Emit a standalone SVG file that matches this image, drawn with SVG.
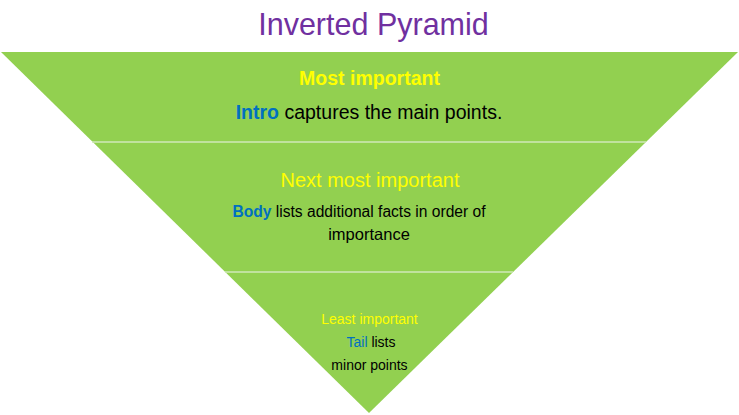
<svg xmlns="http://www.w3.org/2000/svg" width="739" height="415" viewBox="0 0 739 415">
<style>
.t{font-family:"Liberation Sans",Arial,sans-serif;text-anchor:middle}
.y{fill:#ffff00}
.b{fill:#0070c0;font-weight:bold}
.k{fill:#000}
.div{stroke:#cfe8b8;stroke-width:1.5}
</style>
<rect width="739" height="415" fill="#fff"/>
<text class="t" x="373.5" y="35" font-size="30.5" fill="#7030a0">Inverted Pyramid</text>
<g id="pyramid">
<polygon points="1,52 738,52 369,413" fill="#92d050"/>
</g>
<g id="connectors">
<line class="div" x1="92" y1="142" x2="646" y2="142"/>
<line class="div" x1="225" y1="272" x2="513" y2="272"/>
</g>
<g id="tier1">
<text class="t y" x="369.5" y="85" font-size="19.5" font-weight="bold">Most important</text>
<text class="t k" x="369" y="119" font-size="19.5"><tspan class="b">Intro</tspan> captures the main points.</text>
</g>
<g id="tier2">
<text class="t y" x="370" y="187" font-size="20">Next most important</text>
<text class="t k" x="359" y="217" font-size="15.6"><tspan class="b">Body</tspan> lists additional facts in order of</text>
<text class="t k" x="369" y="240" font-size="16.5">importance</text>
</g>
<g id="tier3">
<text class="t y" x="369.5" y="324" font-size="14">Least important</text>
<text class="t k" x="371" y="347" font-size="14"><tspan fill="#0070c0">Tail</tspan> lists</text>
<text class="t k" x="369.5" y="370" font-size="14">minor points</text>
</g>
</svg>
